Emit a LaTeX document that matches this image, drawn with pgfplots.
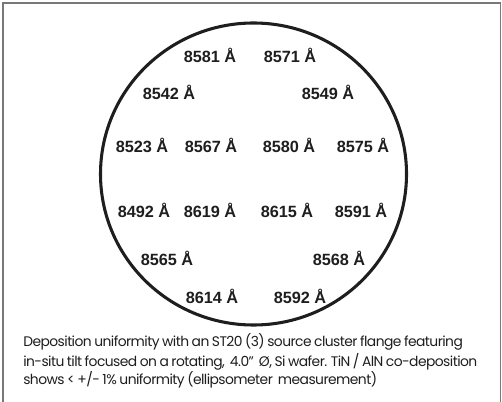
\documentclass[border=0pt]{standalone}
\usepackage{pgfplots}
\pgfplotsset{compat=1.18}
\usepackage{fontspec}
\setmainfont{Liberation Sans}
\newfontfamily\capfont[LetterSpace=-4, WordSpace=0.8]{Poppins}

\definecolor{ink}{RGB}{30,30,30}
\definecolor{frame}{RGB}{120,120,120}

% wafer map: measurement positions (pixel grid) and thickness in Angstrom
\pgfplotstableread{
x y t
210 55 8581
290 55 8571
169 92 8542
328 92 8549
142 145 8523
211 145 8567
289 145 8580
363 145 8575
144 210 8492
210 210 8619
287 210 8615
361 210 8591
167 258 8565
339 258 8568
212 296 8614
300 296 8592
}\wafer

\begin{document}
\begin{tikzpicture}
\begin{axis}[
    scale only axis,
    width=376.5pt, height=301.5pt,
    xmin=0, xmax=502, ymin=0, ymax=402,
    y dir=reverse,
    hide axis,
    clip=false,
]
% frame (bottom edge falls off the page)
\draw[frame, line width=1.1pt] (axis cs:3,402) -- (axis cs:3,3) -- (axis cs:500.5,3) -- (axis cs:500.5,402);
% wafer outline
\draw[ink, line width=2.3pt] (axis cs:253.5,174) ellipse [x radius=153, y radius=151];
\addplot[only marks, mark=none, point meta=explicit symbolic,
    nodes near coords={\pgfplotspointmeta{} Å},
    nodes near coords align=center,
    every node near coord/.append style={font=\bfseries\fontsize{12.2}{14}\selectfont, text=ink, inner sep=0pt}]
    table[x=x, y=y, meta=t] {\wafer};
\node[anchor=base west, inner sep=0pt, text=ink, font=\capfont\fontsize{10.4}{12}\selectfont] at (axis cs:23,346) {Deposition uniformity with an ST20 (3) source cluster flange featuring};
\node[anchor=base west, inner sep=0pt, text=ink, font=\capfont\fontsize{10.4}{12}\selectfont] at (axis cs:23,366) {in-situ tilt focused on a rotating,~ 4.0”~ Ø, Si wafer. TiN / AlN co-deposition};
\node[anchor=base west, inner sep=0pt, text=ink, font=\capfont\fontsize{10.4}{12}\selectfont] at (axis cs:23,384) {shows < +/- 1\% uniformity (ellipsometer~ measurement)};
\end{axis}
\pgfresetboundingbox
\path (current axis.south west) rectangle (current axis.north east);
\end{tikzpicture}
\end{document}
